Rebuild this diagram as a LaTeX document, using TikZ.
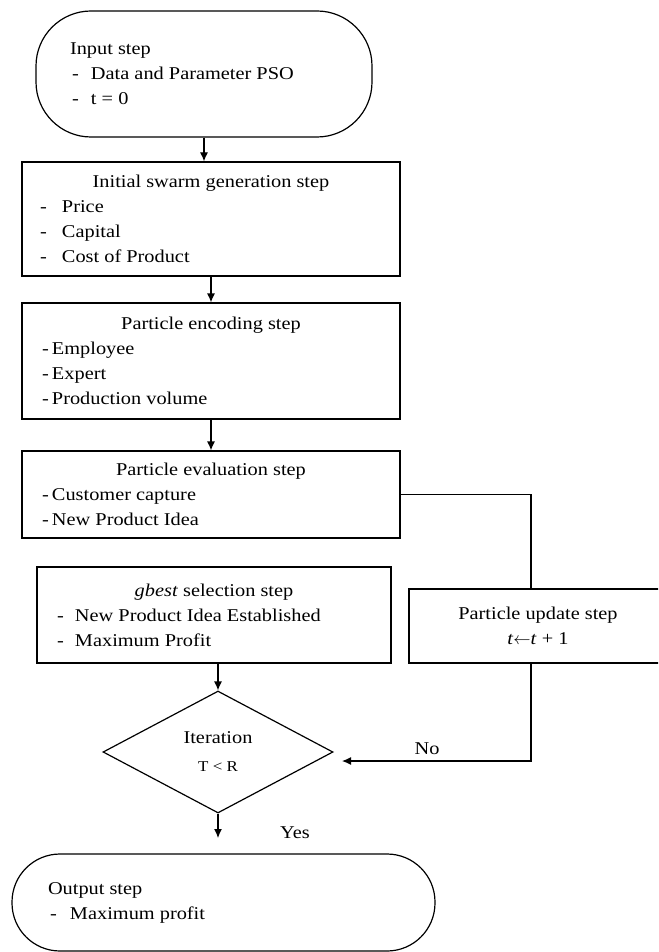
\documentclass[tikz,border=0pt]{standalone}
\usepackage{fontspec}
\setmainfont[FakeStretch=1.13]{Liberation Serif}
\usetikzlibrary{shapes.geometric,arrows.meta,calc}
\newcommand\fs{\fontsize{18}{25}\selectfont}
\newcommand\bxt[2]{\begin{minipage}{#1}\fs #2\end{minipage}}
\tikzset{
  box/.style={draw, line width=1.2pt, rectangle, inner sep=0pt},
  term/.style={draw, line width=1.2pt, rectangle, inner sep=0pt},
  dec/.style={draw, line width=1.2pt, diamond, inner sep=0pt, align=center, font=\fs},
  conn/.style={line width=1.2pt},
  arr/.style={conn, -{Latex[length=9pt,width=8pt]}},
  lbl/.style={inner sep=0pt, font=\fs},
}
\begin{document}
\begin{tikzpicture}[x=1pt,y=-1pt]
\clip (0,0) rectangle (658,952);
\fill[white] (0,0) rectangle (658,952);

\node[term, rounded corners=55pt, minimum width=336pt, minimum height=126pt] (inp) at (204,74)
  {\bxt{268pt}{Input step\par
   \makebox[21pt][l]{\hspace{2pt}-}Data and Parameter PSO\par
   \makebox[21pt][l]{\hspace{2pt}-}t = 0}};

\node[box, minimum width=378pt, minimum height=114pt] (init) at (211,219)
  {\bxt{342pt}{\centering Initial swarm generation step\par\raggedright
   \makebox[22pt][l]{-}Price\par
   \makebox[22pt][l]{-}Capital\par
   \makebox[22pt][l]{-}Cost of Product}};

\node[box, minimum width=378pt, minimum height=116pt] (enc) at (211,361)
  {\bxt{342pt}{\centering Particle encoding step\par\raggedright
   \makebox[12pt][l]{\hspace{2pt}-}Employee\par
   \makebox[12pt][l]{\hspace{2pt}-}Expert\par
   \makebox[12pt][l]{\hspace{2pt}-}Production volume}};

\node[box, minimum width=378pt, minimum height=87pt] (evl) at (211,494.5)
  {\bxt{342pt}{\centering Particle evaluation step\par\raggedright
   \makebox[12pt][l]{\hspace{2pt}-}Customer capture\par
   \makebox[12pt][l]{\hspace{2pt}-}New Product Idea}};

\node[box, minimum width=354pt, minimum height=96pt] (gb) at (214,615)
  {\bxt{314pt}{\centering \textit{gbest} selection step\par\raggedright
   \makebox[18pt][l]{-}New Product Idea Established\par
   \makebox[18pt][l]{-}Maximum Profit}};

\node[box, minimum width=258pt, minimum height=74pt] (upd) at (538,626)
  {\bxt{240pt}{\centering Particle update step\par
   \textit{t}$\leftarrow$\textit{t} + 1}};

\node[dec, minimum width=230pt, minimum height=122pt] (dia) at (218,752)
  {Iteration\\[3pt]{\fontsize{15}{17}\selectfont T < R}};

\node[term, rounded corners=48pt, minimum width=423pt, minimum height=97pt] (out) at (223.5,902.5)
  {\bxt{351pt}{Output step\par
   \makebox[22pt][l]{\hspace{2pt}-}Maximum profit}};

\coordinate (utop) at (531,589);
\coordinate (ubot) at (531,663);
\coordinate (noend) at (342,761);
\coordinate (yesend) at (218,838);

\draw[arr] (inp.south) -- (inp.south |- init.north);
\draw[arr] (init.south) -- (enc.north);
\draw[arr] (enc.south) -- (evl.north);
\draw[conn] (evl.east) -| (utop);
\draw[arr] (ubot) |- (noend);
\draw[arr] (dia.north |- gb.south) -- (dia.north);
\draw[arr] (dia.south) -- (yesend);

\node[lbl] (no) at (427,749) {No};
\node[lbl] (yes) at (295,833) {Yes};
\end{tikzpicture}
\end{document}
